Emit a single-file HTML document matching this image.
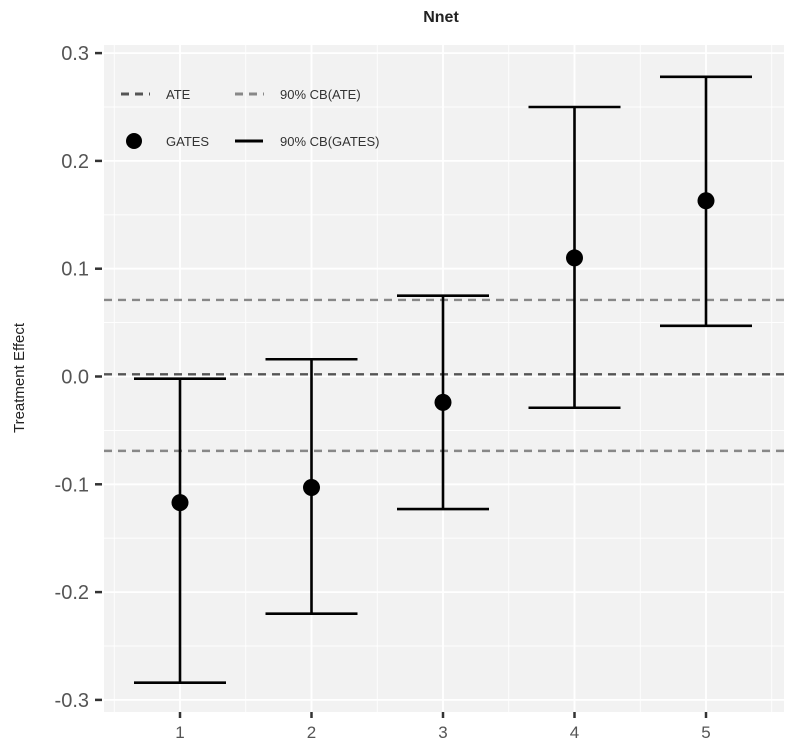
<!DOCTYPE html>
<html><head><meta charset="utf-8"><style>
body{margin:0;background:#fff;font-family:"Liberation Sans",sans-serif}
svg{display:block}
</style></head><body>
<svg id="chart" width="789" height="751">
<text x="441" y="22" text-anchor="middle" font-size="16" font-weight="bold" fill="#222">Nnet</text>
<rect x="104" y="45" width="680" height="667" fill="#f2f2f2"/>
<g id="grid"></g>
<g id="marks"></g>
<g id="axes"></g>
<text transform="translate(24,378) rotate(-90)" text-anchor="middle" font-size="15" fill="#222">Treatment Effect</text>
<g font-size="13" fill="#333">
<line x1="121" y1="94" x2="150" y2="94" stroke="#555" stroke-width="3" stroke-dasharray="8,6"/>
<text x="166" y="99">ATE</text>
<line x1="235" y1="94" x2="264" y2="94" stroke="#888" stroke-width="3" stroke-dasharray="8,6"/>
<text x="280" y="99">90% CB(ATE)</text>
<circle cx="134" cy="141" r="8" fill="#000"/>
<text x="166" y="146">GATES</text>
<line x1="235" y1="141" x2="263" y2="141" stroke="#000" stroke-width="3"/>
<text x="280" y="146">90% CB(GATES)</text>
</g>
</svg>
<script>
const groups=[1,2,3,4,5];
const gates=[-0.117,-0.103,-0.024,0.110,0.163];
const lower=[-0.284,-0.220,-0.123,-0.029,0.047];
const upper=[-0.002,0.016,0.075,0.250,0.278];
const ate=[0.002];
const ateCB=[-0.069,0.071];
const yTicks=[-0.3,-0.2,-0.1,0.0,0.1,0.2,0.3];
const yLabels=["-0.3","-0.2","-0.1","0.0","0.1","0.2","0.3"];
const NS="http://www.w3.org/2000/svg";
const y=v=>376.5-v*1078;
const x=v=>180+(v-1)*131.5;
function mk(p,t,a){const e=document.createElementNS(NS,t);for(const k in a)e.setAttribute(k,a[k]);p.appendChild(e);return e;}
const grid=document.getElementById('grid'),marks=document.getElementById('marks'),axes=document.getElementById('axes');
for(let v=-0.3;v<=0.3001;v+=0.05){
 const major=Math.abs(Math.round(v*20))%2===0;
 const l=mk(grid,'line',{x1:104,x2:784,y1:y(v),y2:y(v),stroke:'#fff','stroke-width':major?1.8:0.9});
 
 
}
for(let v=0.5;v<=5.5;v+=0.5){
 const major=Number.isInteger(v);
 const l=mk(grid,'line',{x1:x(v),x2:x(v),y1:45,y2:712,stroke:'#fff','stroke-width':major?1.8:0.9});
 
 
}
ateCB.forEach(v=>{
 const l=mk(marks,'line',{x1:104,x2:784,y1:y(v),y2:y(v),stroke:'#888','stroke-width':2.4,'stroke-dasharray':'8,6'});
 
 
});
const al=mk(marks,'line',{x1:104,x2:784,y1:y(ate[0]),y2:y(ate[0]),stroke:'#555','stroke-width':2.4,'stroke-dasharray':'8,6'});


groups.forEach((g,i)=>{
 const cx=x(g);
 const eg=mk(marks,'g',{stroke:'#000','stroke-width':2.6});
 
 
 mk(eg,'line',{x1:cx,x2:cx,y1:y(lower[i]),y2:y(upper[i])});
 mk(eg,'line',{x1:cx-46,x2:cx+46,y1:y(lower[i]),y2:y(lower[i])});
 mk(eg,'line',{x1:cx-46,x2:cx+46,y1:y(upper[i]),y2:y(upper[i])});
 const c=mk(marks,'circle',{cx:cx,cy:y(gates[i]),r:8.5,fill:'#000'});
 
 
 const tk=mk(axes,'line',{x1:cx,x2:cx,y1:712,y2:718,stroke:'#333','stroke-width':2.5});
 
 
 const t=mk(axes,'text',{x:cx,y:738,'text-anchor':'middle','font-size':17,fill:'#555'});
 t.textContent=g;
 
 
});
yTicks.forEach((v,i)=>{
 const tk=mk(axes,'line',{x1:95,x2:102,y1:y(v),y2:y(v),stroke:'#333','stroke-width':2.5});
 
 
 const t=mk(axes,'text',{x:89,y:y(v)+7,'text-anchor':'end','font-size':20,fill:'#555'});
 t.textContent=yLabels[i];
 
 
});
</script>
</body></html>
